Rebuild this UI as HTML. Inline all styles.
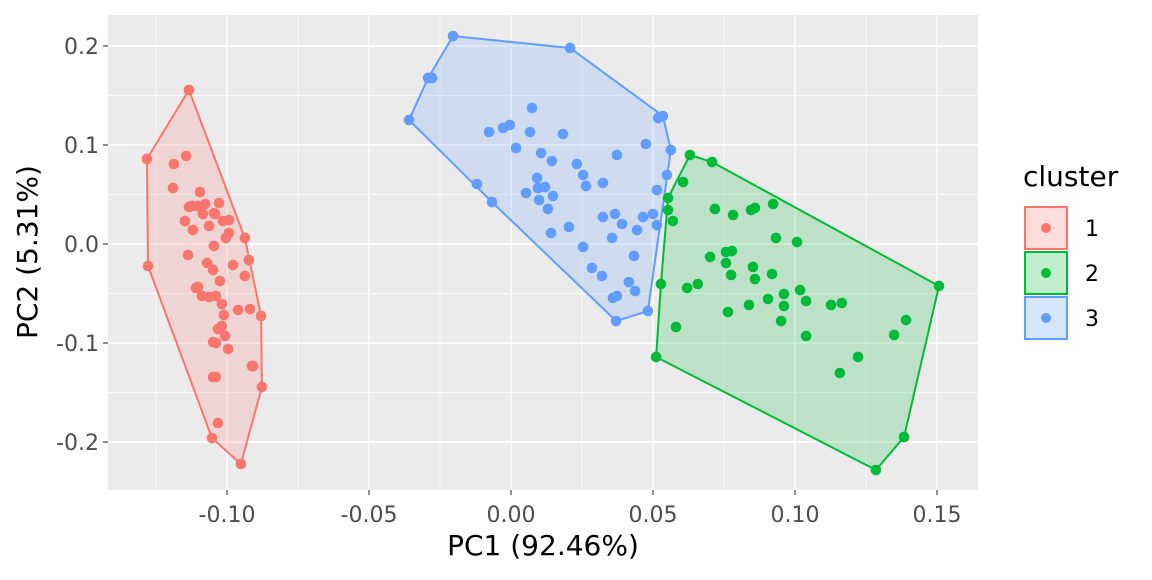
<!DOCTYPE html>
<html><head><meta charset="utf-8"><style>
body{margin:0;background:#fff;font-family:"DejaVu Sans",sans-serif}
svg text{font-family:"DejaVu Sans",sans-serif}
</style></head><body>
<svg id="chart" width="1152" height="576" viewBox="0 0 1152 576" xmlns="http://www.w3.org/2000/svg">
<rect x="108" y="15" width="870" height="475" fill="#ebebeb"/>
<g id="grid"></g>
<g id="hulls"></g>
<g id="points"></g>
<g id="axes"></g>
<text x="543" y="555" font-size="28" text-anchor="middle" fill="#000">PC1 (92.46%)</text>
<text transform="translate(37,252) rotate(-90)" font-size="28" text-anchor="middle" fill="#000">PC2 (5.31%)</text>
<g>
<text x="1023" y="186" font-size="28" fill="#000">cluster</text>
<g id="legend-keys"></g>
</g>
</svg>
<script>
const clusterLabels=["1","2","3"];
const clusterColors=["#F8766D","#00BA38","#619CFF"];
const xTicks=[-0.10,-0.05,0.00,0.05,0.10,0.15];
const xTickLabels=["-0.10","-0.05","0.00","0.05","0.10","0.15"];
const yTicks=[-0.2,-0.1,0.0,0.1,0.2];
const yTickLabels=["-0.2","-0.1","0.0","0.1","0.2"];
const c1x=[-0.1134,-0.1282,-0.1278,-0.0951,-0.1053,-0.0877,-0.0880,-0.0912,-0.0937,-0.1144,-0.1187,-0.1190,-0.1095,-0.1077,-0.1123,-0.1102,-0.1134,-0.1028,-0.1046,-0.1042,-0.1085,-0.1014,-0.0993,-0.1148,-0.1063,-0.1120,-0.0993,-0.1004,-0.1046,-0.1137,-0.1070,-0.0979,-0.0923,-0.1049,-0.0937,-0.1025,-0.1109,-0.1102,-0.1088,-0.1063,-0.1039,-0.1018,-0.1011,-0.0961,-0.0919,-0.1018,-0.1032,-0.1007,-0.1039,-0.0996,-0.1049,-0.0908,-0.1049,-0.1039,-0.1032];
const c1y=[0.1556,0.0859,-0.0222,-0.2222,-0.1960,-0.1444,-0.0727,-0.1232,0.0061,0.0889,0.0808,0.0566,0.0525,0.0404,0.0384,0.0384,0.0374,0.0414,0.0313,0.0303,0.0303,0.0232,0.0242,0.0232,0.0182,0.0141,0.0111,0.0061,-0.0020,-0.0111,-0.0192,-0.0212,-0.0162,-0.0263,-0.0323,-0.0374,-0.0444,-0.0434,-0.0525,-0.0535,-0.0525,-0.0606,-0.0717,-0.0667,-0.0657,-0.0828,-0.0859,-0.0929,-0.1000,-0.1061,-0.0990,-0.1232,-0.1343,-0.1343,-0.1808];
const c2x=[0.0630,0.0708,0.0606,0.0553,0.0553,0.0570,0.0718,0.0782,0.0845,0.0859,0.0923,0.0933,0.1007,0.0701,0.0757,0.0778,0.0757,0.0775,0.0852,0.0859,0.0919,0.0528,0.0620,0.0658,0.0961,0.1018,0.1039,0.0905,0.0961,0.0838,0.0764,0.0951,0.1127,0.1165,0.0581,0.1039,0.0511,0.1222,0.1158,0.1391,0.1349,0.1507,0.1384,0.1285];
const c2y=[0.0899,0.0828,0.0626,0.0465,0.0343,0.0232,0.0354,0.0293,0.0343,0.0364,0.0404,0.0061,0.0020,-0.0131,-0.0081,-0.0071,-0.0192,-0.0313,-0.0232,-0.0354,-0.0303,-0.0404,-0.0444,-0.0404,-0.0505,-0.0465,-0.0576,-0.0556,-0.0626,-0.0616,-0.0687,-0.0778,-0.0616,-0.0596,-0.0838,-0.0929,-0.1141,-0.1141,-0.1303,-0.0768,-0.0919,-0.0424,-0.1949,-0.2283];
const c3x=[-0.0204,0.0208,-0.0292,-0.0278,-0.0359,0.0074,-0.0077,-0.0028,-0.0004,0.0067,0.0183,0.0518,0.0535,0.0475,0.0563,0.0018,0.0106,0.0144,0.0232,0.0373,0.0254,0.0264,0.0324,0.0549,0.0514,-0.0120,-0.0067,0.0092,0.0053,0.0095,0.0120,0.0148,0.0099,0.0130,0.0141,0.0204,0.0324,0.0366,0.0391,0.0465,0.0500,0.0514,0.0444,0.0356,0.0254,0.0433,0.0285,0.0320,0.0415,0.0437,0.0359,0.0373,0.0370,0.0482];
const c3y=[0.2101,0.1980,0.1677,0.1677,0.1253,0.1374,0.1131,0.1172,0.1202,0.1131,0.1111,0.1273,0.1293,0.1010,0.0949,0.0970,0.0919,0.0838,0.0808,0.0899,0.0697,0.0586,0.0616,0.0697,0.0545,0.0606,0.0424,0.0667,0.0515,0.0566,0.0576,0.0485,0.0444,0.0354,0.0111,0.0172,0.0273,0.0303,0.0202,0.0273,0.0303,0.0192,0.0141,0.0061,-0.0030,-0.0121,-0.0242,-0.0323,-0.0384,-0.0475,-0.0545,-0.0525,-0.0778,-0.0677];

const NS="http://www.w3.org/2000/svg";
const PL=108,PR=978,PT=15,PB=490;
function sx(v){return 511+v*2840;}
function sy(v){return 244-v*990;}
function mk(tag,attrs,parent){const e=document.createElementNS(NS,tag);for(const k in attrs)e.setAttribute(k,attrs[k]);parent.appendChild(e);return e;}
const grid=document.getElementById('grid');
function minorX(m){if(sx(m)<=PL||sx(m)>=PR)return;const l=mk('line',{x1:sx(m),x2:sx(m),y1:PT,y2:PB,stroke:'#fff','stroke-width':0.7},grid);

}
function minorY(m){if(sy(m)>=PB||sy(m)<=PT)return;const l=mk('line',{x1:PL,x2:PR,y1:sy(m),y2:sy(m),stroke:'#fff','stroke-width':0.7},grid);

}
for(let i=0;i<xTicks.length-1;i++)minorX((xTicks[i]+xTicks[i+1])/2);
minorX(xTicks[0]-0.025);minorX(xTicks[xTicks.length-1]+0.025);
for(let i=0;i<yTicks.length-1;i++)minorY((yTicks[i]+yTicks[i+1])/2);
minorY(yTicks[0]-0.05);minorY(yTicks[yTicks.length-1]+0.05);
const axes=document.getElementById('axes');
xTicks.forEach((t,i)=>{const l=mk('line',{x1:sx(t),x2:sx(t),y1:PT,y2:PB,stroke:'#fff','stroke-width':1.4},grid);


const tk=mk('line',{x1:sx(t),x2:sx(t),y1:PB,y2:PB+5,stroke:'#333','stroke-width':1.1},axes);


const tx=mk('text',{x:sx(t),y:PB+32,'font-size':22,'text-anchor':'middle',fill:'#4d4d4d'},axes);tx.textContent=xTickLabels[i];

});
yTicks.forEach((t,i)=>{const l=mk('line',{x1:PL,x2:PR,y1:sy(t),y2:sy(t),stroke:'#fff','stroke-width':1.4},grid);


const tk=mk('line',{x1:PL-5,x2:PL,y1:sy(t),y2:sy(t),stroke:'#333','stroke-width':1.1},axes);


const tx=mk('text',{x:PL-9,y:sy(t)+8,'font-size':22,'text-anchor':'end',fill:'#4d4d4d'},axes);tx.textContent=yTickLabels[i];

});
function hull(pts){pts=pts.slice().sort((a,b)=>a[0]-b[0]||a[1]-b[1]);const cr=(o,a,b)=>(a[0]-o[0])*(b[1]-o[1])-(a[1]-o[1])*(b[0]-o[0]);const lo=[],up=[];for(const p of pts){while(lo.length>=2&&cr(lo[lo.length-2],lo[lo.length-1],p)<=0)lo.pop();lo.push(p);}for(let i=pts.length-1;i>=0;i--){const p=pts[i];while(up.length>=2&&cr(up[up.length-2],up[up.length-1],p)<=0)up.pop();up.push(p);}up.pop();lo.pop();return lo.concat(up);}
const series=[[c1x,c1y],[c2x,c2y],[c3x,c3y]];
const hg=document.getElementById('hulls'),pg=document.getElementById('points');
series.forEach((s,ci)=>{const pts=s[0].map((x,i)=>[x,s[1][i]]);const h=hull(pts);
const poly=mk('polygon',{points:h.map(p=>sx(p[0])+','+sy(p[1])).join(' '),fill:clusterColors[ci],'fill-opacity':0.2,stroke:clusterColors[ci],'stroke-width':2,'stroke-linejoin':'round'},hg);


pts.forEach(p=>{const c=mk('circle',{cx:sx(p[0]),cy:sy(p[1]),r:5.3,fill:clusterColors[ci]},pg);

});});
const lk=document.getElementById('legend-keys');
clusterLabels.forEach((lab,i)=>{const y=207+i*45;
const r=mk('rect',{x:1025,y:y,width:42,height:42,fill:clusterColors[i],'fill-opacity':0.25,stroke:clusterColors[i],'stroke-width':2},lk);


const c=mk('circle',{cx:1046,cy:y+21,r:5,fill:clusterColors[i]},lk);


const t=mk('text',{x:1085,y:y+29,'font-size':22,fill:'#000'},lk);t.textContent=lab;

});
</script>
</body></html>
